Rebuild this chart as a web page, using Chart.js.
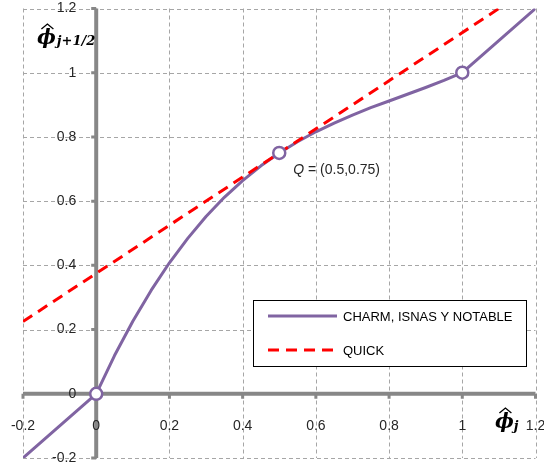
<!DOCTYPE html>
<html>
<head>
<meta charset="utf-8">
<script src="https://cdn.jsdelivr.net/npm/chart.js@4.4.0/dist/chart.umd.min.js"></script>
<style>
  html, body { margin: 0; padding: 0; background: #fff; }
  #nvd { display: block; }
</style>
</head>
<body>
<canvas id="nvd" width="544" height="467"></canvas>
<script>
var phiC = [-0.2, 0, 0.05, 0.1, 0.15, 0.2, 0.25, 0.3, 0.35, 0.4, 0.45, 0.5, 0.55, 0.6, 0.65, 0.7, 0.75, 0.8, 0.85, 0.9, 0.95, 1, 1.2];
var phiCharm = [-0.2, 0, 0.119, 0.226, 0.322, 0.408, 0.484, 0.552, 0.612, 0.664, 0.71, 0.75, 0.785, 0.816, 0.843, 0.868, 0.891, 0.912, 0.933, 0.954, 0.976, 1, 1.2];
var phiQuickX = [-0.2, 1.2];
var phiQuick = [0.225, 1.275];
var markX = [0, 0.5, 1];
var markY = [0, 0.75, 1];
var tickValues = [-0.2, 0, 0.2, 0.4, 0.6, 0.8, 1, 1.2];
var tickLabels = ['-0.2', '0', '0.2', '0.4', '0.6', '0.8', '1', '1.2'];
var seriesNames = ['CHARM, ISNAS Y NOTABLE', 'QUICK'];
var qName = 'Q';
var qText = ' = (0.5,0.75)';

function pts(xs, ys) {
    return xs.map(function (x, i) { return { x: x, y: ys[i] }; });
}

var purple = '#8064a2';
var red = '#ff0000';

// phi con sombrero (el sombrero se traza aparte)
function phiHat(ctx, x, y, sub, subDx, subDy) {
    ctx.font = 'bold italic 20px "DejaVu Serif"';
    ctx.fillText('\u03d5', x, y);
    var w = ctx.measureText('\u03d5').width;
    var cx = x + w / 2 + 1;
    ctx.beginPath();
    ctx.moveTo(cx - 6, y - 15);
    ctx.lineTo(cx, y - 20);
    ctx.lineTo(cx + 6, y - 15);
    ctx.lineWidth = 1.3;
    ctx.strokeStyle = '#000';
    ctx.stroke();
    ctx.font = 'bold italic 13px "DejaVu Serif"';
    ctx.fillText(sub, x + w + subDx, y + subDy);
}

var decor = {
    id: 'decor',
    beforeDatasetsDraw: function (chart) {
        var ctx = chart.ctx, xs = chart.scales.x, ys = chart.scales.y, a = chart.chartArea;
        var x0 = xs.getPixelForValue(0), y0 = ys.getPixelForValue(0);
        ctx.save();
        // rejilla discontinua
        ctx.strokeStyle = '#a6a6a6';
        ctx.lineWidth = 1;
        ctx.setLineDash([4, 3]);
        ctx.beginPath();
        tickValues.forEach(function (v) {
            var px = Math.round(xs.getPixelForValue(v)) + 0.5;
            var py = Math.round(ys.getPixelForValue(v)) + 0.5;
            ctx.moveTo(px, a.top); ctx.lineTo(px, a.bottom);
            ctx.moveTo(a.left, py); ctx.lineTo(a.right, py);
        });
        ctx.stroke();
        ctx.setLineDash([]);
        // ejes por el cero
        ctx.strokeStyle = '#878787';
        ctx.lineWidth = 4;
        ctx.beginPath();
        ctx.moveTo(a.left, y0); ctx.lineTo(a.right, y0);
        ctx.moveTo(x0, a.top); ctx.lineTo(x0, a.bottom);
        ctx.stroke();
        ctx.lineWidth = 3;
        ctx.beginPath();
        tickValues.forEach(function (v) {
            var px = xs.getPixelForValue(v), py = ys.getPixelForValue(v);
            ctx.moveTo(px, y0); ctx.lineTo(px, y0 + 5);
            ctx.moveTo(x0, py); ctx.lineTo(x0 - 5, py);
        });
        ctx.stroke();
        // etiquetas
        ctx.fillStyle = '#262626';
        ctx.font = '14px "Liberation Sans"';
        ctx.textBaseline = 'middle';
        ctx.textAlign = 'center';
        tickValues.forEach(function (v, i) {
            ctx.fillText(tickLabels[i], xs.getPixelForValue(v), y0 + 32);
        });
        ctx.textAlign = 'right';
        tickValues.forEach(function (v, i) {
            ctx.fillText(tickLabels[i], x0 - 20, ys.getPixelForValue(v));
        });
        ctx.restore();
    },
    afterDatasetsDraw: function (chart) {
        var ctx = chart.ctx, xs = chart.scales.x, ys = chart.scales.y;
        ctx.save();
        // titulos de los ejes
        ctx.fillStyle = '#000';
        ctx.textBaseline = 'alphabetic';
        ctx.textAlign = 'left';
        phiHat(ctx, 37, 44, 'j+1/2', 1, 1);
        phiHat(ctx, 495, 428, 'j', 0, 2);

        // punto Q
        var qx = xs.getPixelForValue(0.5) + 14, qy = ys.getPixelForValue(0.75) + 17;
        ctx.textBaseline = 'middle';
        ctx.font = 'italic 14px "Liberation Sans"';
        ctx.fillStyle = '#262626';
        ctx.fillText(qName, qx, qy);
        var w = ctx.measureText(qName).width;
        ctx.font = '14px "Liberation Sans"';
        ctx.fillText(qText, qx + w, qy);

        // leyenda
        ctx.fillStyle = '#fff';
        ctx.fillRect(253, 300, 274, 66);
        ctx.strokeStyle = '#000';
        ctx.lineWidth = 1;
        ctx.strokeRect(253.5, 300.5, 273, 66);
        var rows = [316, 350];
        ctx.font = '13px "Liberation Sans"';
        [0, 1].forEach(function (i) {
            var ds = chart.data.datasets[i];
            ctx.strokeStyle = ds.borderColor;
            ctx.lineWidth = ds.borderWidth;
            ctx.setLineDash(ds.borderDash || []);
            ctx.beginPath();
            ctx.moveTo(268, rows[i]);
            ctx.lineTo(337, rows[i]);
            ctx.stroke();
            ctx.setLineDash([]);
            ctx.fillStyle = '#000';
            ctx.fillText(seriesNames[i], 343, rows[i] + 1);
        });
        ctx.restore();
    }
};

var chart = new Chart(document.getElementById('nvd').getContext('2d'), {
    type: 'scatter',
    data: {
        datasets: [
            {
                label: seriesNames[0],
                data: pts(phiC, phiCharm),
                showLine: true,
                borderColor: purple,
                borderWidth: 3,
                borderJoinStyle: 'round',
                pointRadius: 0,
                tension: 0,
                order: 2
            },
            {
                label: seriesNames[1],
                data: pts(phiQuickX, phiQuick),
                showLine: true,
                borderColor: red,
                borderWidth: 3,
                borderDash: [11, 7],
                pointRadius: 0,
                order: 1
            },
            {
                label: 'puntos',
                data: pts(markX, markY),
                showLine: false,
                pointRadius: 6,
                pointBorderWidth: 2.5,
                pointBackgroundColor: '#fff',
                pointBorderColor: purple,
                order: 0
            }
        ]
    },
    options: {
        responsive: false,
        animation: false,
        layout: { padding: { left: 23, right: 7, top: 7, bottom: 9 } },
        plugins: {
            legend: { display: false },
            tooltip: { enabled: false }
        },
        scales: {
            x: {
                type: 'linear',
                min: -0.2,
                max: 1.2,
                afterBuildTicks: function (scale) {
                    scale.ticks = tickValues.map(function (v) { return { value: v }; });
                },
                grid: { display: false, drawTicks: false },
                border: { display: false },
                ticks: { display: false, padding: 0 }
            },
            y: {
                type: 'linear',
                min: -0.2,
                max: 1.2,
                afterBuildTicks: function (scale) {
                    scale.ticks = tickValues.map(function (v) { return { value: v }; });
                },
                grid: { display: false, drawTicks: false },
                border: { display: false },
                ticks: { display: false, padding: 0 }
            }
        }
    },
    plugins: [decor]
});
</script>
</body>
</html>
